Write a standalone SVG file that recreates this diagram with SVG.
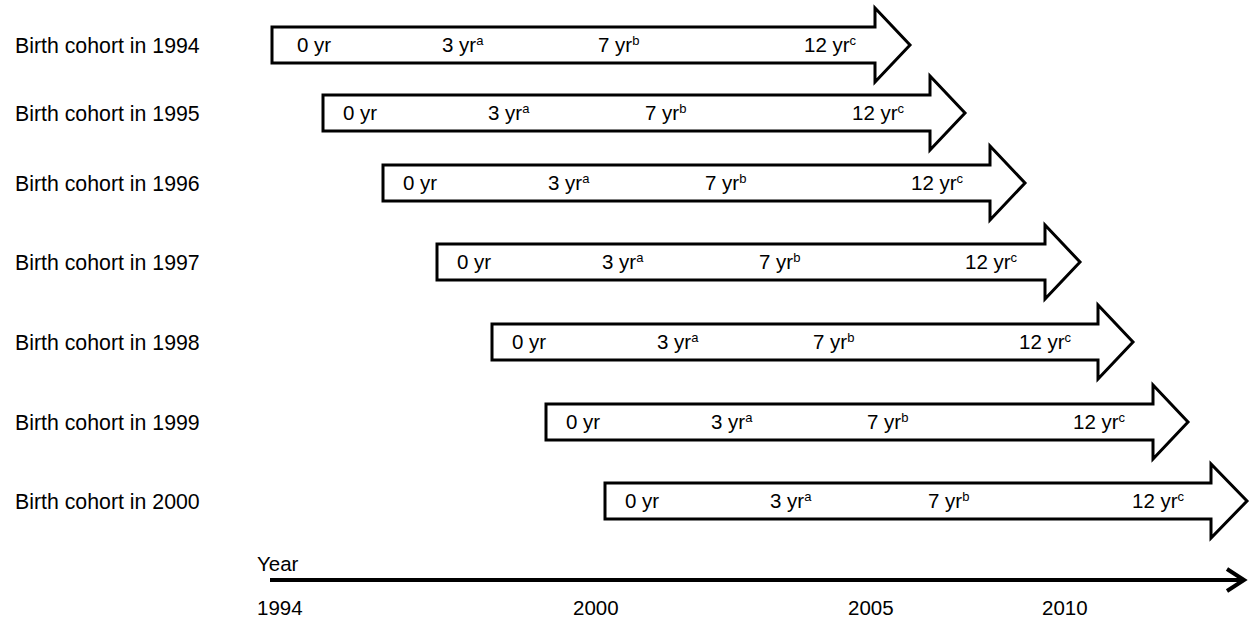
<svg xmlns="http://www.w3.org/2000/svg" width="1253" height="620" viewBox="0 0 1253 620">
<defs>
<style>
text{font-family:"Liberation Sans",Arial,sans-serif;font-size:20.5px;fill:#000}
.lbl{font-size:21.3px}
.sup{font-size:13px}
.arrow{fill:#fff;stroke:#000;stroke-width:3;stroke-linejoin:miter}
.axis{stroke:#000;stroke-width:4;fill:none}
</style>
</defs>
<rect width="1253" height="620" fill="#fff"/>
<g id="labels">
<text class="lbl" x="15" y="53">Birth cohort in 1994</text>
<text class="lbl" x="15" y="121">Birth cohort in 1995</text>
<text class="lbl" x="15" y="191">Birth cohort in 1996</text>
<text class="lbl" x="15" y="270">Birth cohort in 1997</text>
<text class="lbl" x="15" y="350">Birth cohort in 1998</text>
<text class="lbl" x="15" y="430">Birth cohort in 1999</text>
<text class="lbl" x="15" y="509">Birth cohort in 2000</text>
</g>
<g id="cohort1994">
<path class="arrow" d="M272,27 H875 V8 L910,45 L875,82 V63 H272 Z"/>
<text x="297" y="52">0 yr</text>
<text x="442" y="52">3 yr<tspan class="sup" dy="-7">a</tspan></text>
<text x="598" y="52">7 yr<tspan class="sup" dy="-7">b</tspan></text>
<text x="804" y="52">12 yr<tspan class="sup" dy="-7">c</tspan></text>
</g>
<g id="cohort1995">
<path class="arrow" d="M323,95 H930 V76 L965,113 L930,150 V131 H323 Z"/>
<text x="343" y="120">0 yr</text>
<text x="488" y="120">3 yr<tspan class="sup" dy="-7">a</tspan></text>
<text x="645" y="120">7 yr<tspan class="sup" dy="-7">b</tspan></text>
<text x="852" y="120">12 yr<tspan class="sup" dy="-7">c</tspan></text>
</g>
<g id="cohort1996">
<path class="arrow" d="M383,165 H990 V146 L1025,183 L990,220 V201 H383 Z"/>
<text x="403" y="190">0 yr</text>
<text x="548" y="190">3 yr<tspan class="sup" dy="-7">a</tspan></text>
<text x="705" y="190">7 yr<tspan class="sup" dy="-7">b</tspan></text>
<text x="911" y="190">12 yr<tspan class="sup" dy="-7">c</tspan></text>
</g>
<g id="cohort1997">
<path class="arrow" d="M437,244 H1045 V225 L1080,262 L1045,299 V280 H437 Z"/>
<text x="457" y="269">0 yr</text>
<text x="602" y="269">3 yr<tspan class="sup" dy="-7">a</tspan></text>
<text x="759" y="269">7 yr<tspan class="sup" dy="-7">b</tspan></text>
<text x="965" y="269">12 yr<tspan class="sup" dy="-7">c</tspan></text>
</g>
<g id="cohort1998">
<path class="arrow" d="M492,324 H1098 V305 L1133,342 L1098,379 V360 H492 Z"/>
<text x="512" y="349">0 yr</text>
<text x="657" y="349">3 yr<tspan class="sup" dy="-7">a</tspan></text>
<text x="813" y="349">7 yr<tspan class="sup" dy="-7">b</tspan></text>
<text x="1019" y="349">12 yr<tspan class="sup" dy="-7">c</tspan></text>
</g>
<g id="cohort1999">
<path class="arrow" d="M546,404 H1153 V385 L1188,422 L1153,459 V440 H546 Z"/>
<text x="566" y="429">0 yr</text>
<text x="711" y="429">3 yr<tspan class="sup" dy="-7">a</tspan></text>
<text x="867" y="429">7 yr<tspan class="sup" dy="-7">b</tspan></text>
<text x="1073" y="429">12 yr<tspan class="sup" dy="-7">c</tspan></text>
</g>
<g id="cohort2000">
<path class="arrow" d="M605,483 H1211 V464 L1247,501 L1211,538 V519 H605 Z"/>
<text x="625" y="508">0 yr</text>
<text x="770" y="508">3 yr<tspan class="sup" dy="-7">a</tspan></text>
<text x="928" y="508">7 yr<tspan class="sup" dy="-7">b</tspan></text>
<text x="1132" y="508">12 yr<tspan class="sup" dy="-7">c</tspan></text>
</g>
<g id="axis">
<line class="axis" x1="270" y1="580" x2="1243" y2="580"/>
<polyline class="axis" points="1227,569 1244,580 1227,591"/>
<text x="257" y="571">Year</text>
<text x="257" y="615">1994</text>
<text x="573" y="615">2000</text>
<text x="848" y="615">2005</text>
<text x="1042" y="615">2010</text>
</g>
</svg>
